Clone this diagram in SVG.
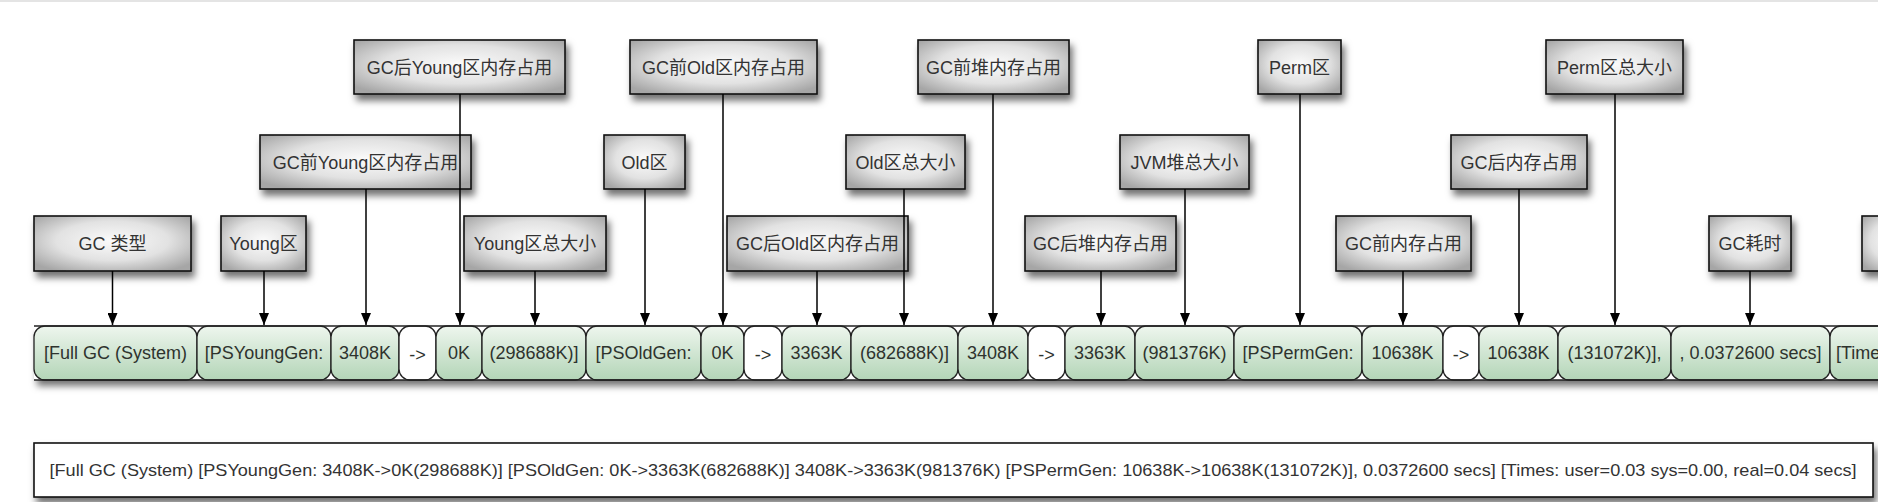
<svg xmlns="http://www.w3.org/2000/svg" width="1878" height="502" viewBox="0 0 1878 502">
<defs>
<radialGradient id="boxg" cx="50%" cy="45%" r="65%">
<stop offset="0" stop-color="#fbfbfb"/>
<stop offset="0.55" stop-color="#e2e2e2"/>
<stop offset="1" stop-color="#a6a6a6"/>
</radialGradient>
<linearGradient id="cellg" x1="0" y1="0" x2="0" y2="1">
<stop offset="0" stop-color="#eef6ee"/>
<stop offset="1" stop-color="#b3d5b7"/>
</linearGradient>
<filter id="sh" x="-10%" y="-20%" width="130%" height="160%">
<feDropShadow dx="3" dy="6" stdDeviation="3.5" flood-color="#000" flood-opacity="0.55"/>
</filter>
<marker id="ah" markerWidth="12" markerHeight="10" refX="12" refY="5" orient="auto" markerUnits="userSpaceOnUse" viewBox="0 0 12 10">
<path d="M0,0 L12,5 L0,10 Z" fill="#000"/>
</marker>
</defs>
<style>
.box{fill:url(#boxg);stroke:#111;stroke-width:1.6;filter:url(#sh)}
.lbl{font-family:"Liberation Sans","Noto Sans CJK SC",sans-serif;font-size:18px;fill:#333;text-anchor:middle}
.cell{fill:url(#cellg);stroke:#222;stroke-width:1.3}
.arr{fill:#fff;stroke:#222;stroke-width:1.3}
.ct{font-family:"Liberation Sans","Noto Sans CJK SC",sans-serif;font-size:18px;fill:#2e332e;text-anchor:middle}
.con{stroke:#000;stroke-width:1.5;fill:none;marker-end:url(#ah)}
</style>
<rect width="1878" height="502" fill="#fff"/>
<line x1="0" y1="1" x2="1878" y2="1" stroke="#e4e4e4" stroke-width="2"/>

<!-- top row -->
<g id="n-gc-after-young"><rect class="box" x="354" y="40" width="211" height="54"/><text class="lbl" x="459.5" y="73.5">GC后Young区内存占用</text></g>
<g id="n-gc-before-old"><rect class="box" x="630" y="40" width="187" height="54"/><text class="lbl" x="723.5" y="73.5">GC前Old区内存占用</text></g>
<g id="n-gc-before-heap"><rect class="box" x="918" y="40" width="151" height="54"/><text class="lbl" x="993.5" y="73.5">GC前堆内存占用</text></g>
<g id="n-perm"><rect class="box" x="1258" y="40" width="83" height="54"/><text class="lbl" x="1299.5" y="73.5">Perm区</text></g>
<g id="n-perm-total"><rect class="box" x="1546" y="40" width="137" height="54"/><text class="lbl" x="1614.5" y="73.5">Perm区总大小</text></g>

<!-- middle row -->
<g id="n-gc-before-young"><rect class="box" x="260" y="135" width="211" height="54"/><text class="lbl" x="365.5" y="168.5">GC前Young区内存占用</text></g>
<g id="n-old"><rect class="box" x="604" y="135" width="81" height="54"/><text class="lbl" x="644.5" y="168.5">Old区</text></g>
<g id="n-old-total"><rect class="box" x="846" y="135" width="119" height="54"/><text class="lbl" x="905.5" y="168.5">Old区总大小</text></g>
<g id="n-jvm-total"><rect class="box" x="1120" y="135" width="129" height="54"/><text class="lbl" x="1184.5" y="168.5">JVM堆总大小</text></g>
<g id="n-gc-after-mem"><rect class="box" x="1451" y="135" width="136" height="54"/><text class="lbl" x="1519" y="168.5">GC后内存占用</text></g>

<!-- bottom row -->
<g id="n-gc-type"><rect class="box" x="34" y="216" width="157" height="55"/><text class="lbl" x="112.5" y="250">GC 类型</text></g>
<g id="n-young"><rect class="box" x="221" y="216" width="85" height="55"/><text class="lbl" x="263.5" y="250">Young区</text></g>
<g id="n-young-total"><rect class="box" x="464" y="216" width="142" height="55"/><text class="lbl" x="535" y="250">Young区总大小</text></g>
<g id="n-gc-after-old"><rect class="box" x="727" y="216" width="181" height="55"/><text class="lbl" x="817.5" y="250">GC后Old区内存占用</text></g>
<g id="n-gc-after-heap"><rect class="box" x="1025" y="216" width="151" height="55"/><text class="lbl" x="1100.5" y="250">GC后堆内存占用</text></g>
<g id="n-gc-before-mem"><rect class="box" x="1336" y="216" width="135" height="55"/><text class="lbl" x="1403.5" y="250">GC前内存占用</text></g>
<g id="n-gc-time"><rect class="box" x="1709" y="216" width="82" height="55"/><text class="lbl" x="1750" y="250">GC耗时</text></g>
<g id="n-partial"><rect class="box" x="1862" y="216" width="60" height="55"/></g>

<!-- log bar -->
<g id="logbar">
<rect x="34" y="326" width="1850" height="54" fill="#fff" filter="url(#sh)"/>
<rect class="cell" x="34" y="326" width="163" height="54" rx="11"/><text class="ct" x="115.5" y="359">[Full GC (System)</text>
<rect class="cell" x="197" y="326" width="134" height="54" rx="11"/><text class="ct" x="264" y="359">[PSYoungGen:</text>
<rect class="cell" x="331" y="326" width="68" height="54" rx="11"/><text class="ct" x="365" y="359">3408K</text>
<rect class="arr" x="399" y="326" width="37" height="54" rx="11"/><text class="ct" x="417.5" y="361">-&gt;</text>
<rect class="cell" x="436" y="326" width="46" height="54" rx="11"/><text class="ct" x="459" y="359">0K</text>
<rect class="cell" x="482" y="326" width="104" height="54" rx="11"/><text class="ct" x="534" y="359">(298688K)]</text>
<rect class="cell" x="586" y="326" width="115" height="54" rx="11"/><text class="ct" x="643.5" y="359">[PSOldGen:</text>
<rect class="cell" x="701" y="326" width="43" height="54" rx="11"/><text class="ct" x="722.5" y="359">0K</text>
<rect class="arr" x="744" y="326" width="38" height="54" rx="11"/><text class="ct" x="763" y="361">-&gt;</text>
<rect class="cell" x="782" y="326" width="69" height="54" rx="11"/><text class="ct" x="816.5" y="359">3363K</text>
<rect class="cell" x="851" y="326" width="107" height="54" rx="11"/><text class="ct" x="904.5" y="359">(682688K)]</text>
<rect class="cell" x="958" y="326" width="70" height="54" rx="11"/><text class="ct" x="993" y="359">3408K</text>
<rect class="arr" x="1028" y="326" width="37" height="54" rx="11"/><text class="ct" x="1046.5" y="361">-&gt;</text>
<rect class="cell" x="1065" y="326" width="70" height="54" rx="11"/><text class="ct" x="1100" y="359">3363K</text>
<rect class="cell" x="1135" y="326" width="99" height="54" rx="11"/><text class="ct" x="1184.5" y="359">(981376K)</text>
<rect class="cell" x="1234" y="326" width="128" height="54" rx="11"/><text class="ct" x="1298" y="359">[PSPermGen:</text>
<rect class="cell" x="1362" y="326" width="81" height="54" rx="11"/><text class="ct" x="1402.5" y="359">10638K</text>
<rect class="arr" x="1443" y="326" width="36" height="54" rx="11"/><text class="ct" x="1461" y="361">-&gt;</text>
<rect class="cell" x="1479" y="326" width="79" height="54" rx="11"/><text class="ct" x="1518.5" y="359">10638K</text>
<rect class="cell" x="1558" y="326" width="113" height="54" rx="11"/><text class="ct" x="1614.5" y="359">(131072K)],</text>
<rect class="cell" x="1671" y="326" width="159" height="54" rx="11"/><text class="ct" x="1750.5" y="359">, 0.0372600 secs]</text>
<rect class="cell" x="1830" y="326" width="80" height="54" rx="11"/><text class="ct" x="1836" y="359" style="text-anchor:start">[Time</text>
<line x1="34" y1="326" x2="1878" y2="326" stroke="#222" stroke-width="1.4"/>
<line x1="34" y1="380" x2="1878" y2="380" stroke="#222" stroke-width="1.4"/>
</g>

<!-- full log line -->
<g id="logline">
<rect x="34" y="443" width="1839" height="54" fill="#fff" stroke="#111" stroke-width="1.6" filter="url(#sh)"/>
<text x="49.5" y="476" font-family="Liberation Sans, Noto Sans CJK SC, sans-serif" font-size="17" fill="#333" textLength="1807" lengthAdjust="spacingAndGlyphs">[Full GC (System) [PSYoungGen: 3408K-&gt;0K(298688K)] [PSOldGen: 0K-&gt;3363K(682688K)] 3408K-&gt;3363K(981376K) [PSPermGen: 10638K-&gt;10638K(131072K)], 0.0372600 secs] [Times: user=0.03 sys=0.00, real=0.04 secs]</text>
</g>

<!-- connectors -->
<g id="connectors">
<line class="con" x1="112.5" y1="271" x2="112.5" y2="325"/>
<line class="con" x1="264" y1="271" x2="264" y2="325"/>
<line class="con" x1="366" y1="189" x2="366" y2="325"/>
<line class="con" x1="460" y1="94" x2="460" y2="325"/>
<line class="con" x1="535" y1="271" x2="535" y2="325"/>
<line class="con" x1="645" y1="189" x2="645" y2="325"/>
<line class="con" x1="723" y1="94" x2="723" y2="325"/>
<line class="con" x1="817" y1="271" x2="817" y2="325"/>
<line class="con" x1="904" y1="189" x2="904" y2="325"/>
<line class="con" x1="993" y1="94" x2="993" y2="325"/>
<line class="con" x1="1101" y1="271" x2="1101" y2="325"/>
<line class="con" x1="1185" y1="189" x2="1185" y2="325"/>
<line class="con" x1="1300" y1="94" x2="1300" y2="325"/>
<line class="con" x1="1403" y1="271" x2="1403" y2="325"/>
<line class="con" x1="1519" y1="189" x2="1519" y2="325"/>
<line class="con" x1="1615" y1="94" x2="1615" y2="325"/>
<line class="con" x1="1750" y1="271" x2="1750" y2="325"/>
</g>
</svg>
